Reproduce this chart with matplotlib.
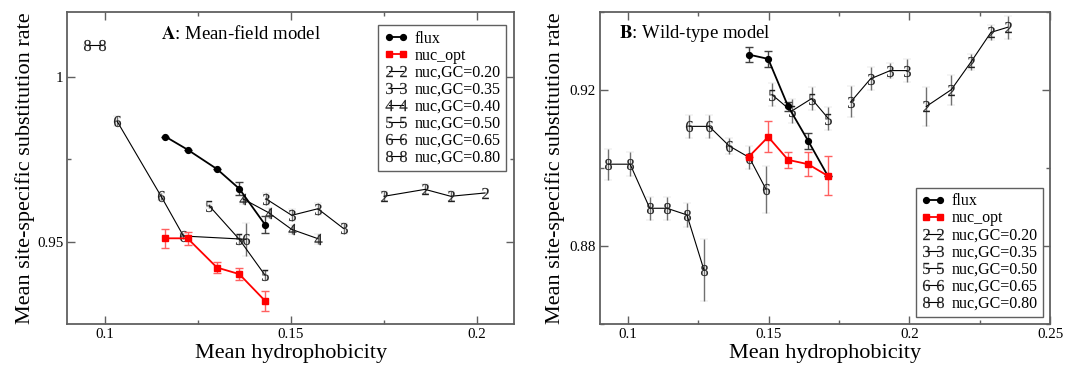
import matplotlib
matplotlib.use("Agg")
import matplotlib.pyplot as plt
from matplotlib.ticker import FixedLocator, FuncFormatter
from matplotlib.container import ErrorbarContainer
from matplotlib.textpath import TextPath
from matplotlib.font_manager import FontProperties
from matplotlib.path import Path

plt.rcParams['font.family'] = ['Liberation Serif', 'DejaVu Serif']
plt.rcParams['mathtext.fontset'] = 'stix'

# ---------------- Panel A: Mean-field model ----------------
fluxA_x = [0.1163, 0.1223, 0.1302, 0.1362, 0.1431]
fluxA_y = [0.982, 0.978, 0.9721, 0.9661, 0.9552]
fluxA_e = [0.0, 0.0, 0.0, 0.002, 0.0027]
nucA_x = [0.1163, 0.1223, 0.1302, 0.1362, 0.1431]
nucA_y = [0.951, 0.951, 0.9421, 0.9401, 0.932]
nucA_e = [0.0029, 0.002, 0.0018, 0.0018, 0.003]

A2_x = [0.1751, 0.1861, 0.1930, 0.2022]
A2_y = [0.9638, 0.9659, 0.9638, 0.9648]
A2_e = [0.0015, 0.0015, 0.0015, 0.0]
A3_x = [0.1434, 0.1503, 0.1573, 0.1642]
A3_y = [0.963, 0.958, 0.960, 0.954]
A3_e = [0.0018, 0.0018, 0.0018, 0.0018]
A4_x = [0.1372, 0.1441, 0.1503, 0.1573]
A4_y = [0.963, 0.9588, 0.9537, 0.9509]
A4_e = [0.0015, 0.0015, 0.0015, 0.0015]
A5_x = [0.1282, 0.1362, 0.1431]
A5_y = [0.9608, 0.9507, 0.9398]
A5_e = [0.0005, 0.0015, 0.0015]
A6_x = [0.1034, 0.1152, 0.1212, 0.1380]
A6_y = [0.9866, 0.9638, 0.9517, 0.9507]
A6_e = [0.0015, 0.001, 0.001, 0.005]
A8_x = [0.0954, 0.0994]
A8_y = [1.010, 1.010]
A8_e = [0.0, 0.0]

# ---------------- Panel B: Wild-type model ----------------
fluxB_x = [0.1429, 0.1498, 0.1569, 0.1640, 0.1710]
fluxB_y = [0.9290, 0.9279, 0.9157, 0.9069, 0.8979]
fluxB_e = [0.0019, 0.002, 0.0012, 0.002, 0.0]
nucB_x = [0.1429, 0.1498, 0.1569, 0.1640, 0.1710]
nucB_y = [0.9028, 0.9079, 0.9020, 0.9009, 0.8979]
nucB_e = [0.0, 0.004, 0.002, 0.003, 0.005]

B2_x = [0.2060, 0.2149, 0.2219, 0.2290, 0.2349]
B2_y = [0.9157, 0.9200, 0.9271, 0.9347, 0.9360]
B2_e = [0.005, 0.0038, 0.002, 0.002, 0.003]
B3_x = [0.1792, 0.1862, 0.1932, 0.1991]
B3_y = [0.9169, 0.9228, 0.9249, 0.9249]
B3_e = [0.004, 0.003, 0.002, 0.003]
B5_x = [0.1512, 0.1581, 0.1652, 0.1712]
B5_y = [0.9187, 0.9145, 0.9177, 0.9126]
B5_e = [0.003, 0.003, 0.003, 0.003]
B6_x = [0.1217, 0.1288, 0.1359, 0.1431, 0.1490]
B6_y = [0.9106, 0.9106, 0.9056, 0.9026, 0.8945]
B6_e = [0.003, 0.003, 0.002, 0.003, 0.006]
B8_x = [0.0930, 0.1007, 0.1077, 0.1138, 0.1209, 0.1270]
B8_y = [0.9009, 0.9009, 0.8896, 0.8896, 0.8879, 0.8737]
B8_e = [0.004, 0.003, 0.003, 0.003, 0.003, 0.008]

labelsA = ['flux', 'nuc_opt', 'nuc,GC=0.20', 'nuc,GC=0.35', 'nuc,GC=0.40',
           'nuc,GC=0.50', 'nuc,GC=0.65', 'nuc,GC=0.80']
labelsB = ['flux', 'nuc_opt', 'nuc,GC=0.20', 'nuc,GC=0.35',
           'nuc,GC=0.50', 'nuc,GC=0.65', 'nuc,GC=0.80']

fig = plt.figure(figsize=(10.74, 3.66), dpi=100)
axA = fig.add_axes([67.3/1074, 42.3/366, 446.7/1074, 312/366])
axB = fig.add_axes([600/1074, 42.3/366, 450/1074, 312/366])

SPINE = '#606060'
ECOL = '#707070'
DIGIT_FONT = FontProperties(family='Liberation Serif')


def digit_marker(d):
    tp = TextPath((0, 0), d, size=10, prop=DIGIT_FONT)
    ext = tp.get_extents()
    cx = (ext.x0 + ext.x1) / 2
    cy = (ext.y0 + ext.y1) / 2
    verts = tp.vertices.copy()
    verts[:, 0] -= cx
    verts[:, 1] -= cy
    return Path(verts, tp.codes)


def draw_flux(ax, x, y, e, label):
    ax.errorbar(x, y, yerr=e, color='black', lw=1.3, marker='o', ms=4.2,
                ecolor='#404040', elinewidth=1.0, capsize=3.2, capthick=1.0,
                label=label, zorder=4)


def draw_nuc(ax, x, y, e, label):
    ax.errorbar(x, y, yerr=e, color='#ff0000', lw=1.3, marker='s', ms=4.0,
                ecolor='#ff6060', elinewidth=1.0, capsize=3.2, capthick=1.0,
                label=label, zorder=4)


def draw_gc(ax, x, y, e, digit, label):
    ax.errorbar(x, y, yerr=e, color='black', lw=0.8,
                marker=digit_marker(digit),
                ms=8, mfc='#202020', mec='#202020', mew=0.1,
                ecolor=ECOL, elinewidth=1.0, capsize=3.2, capthick=1.0,
                label=label, zorder=3)


fmt = FuncFormatter(lambda v, p: ('%g' % round(v, 4)))


def style(ax, xmaj, xmin, ymaj, ymin, xlim, ylim):
    ax.set_xlim(*xlim)
    ax.set_ylim(*ylim)
    ax.xaxis.set_major_locator(FixedLocator(xmaj))
    ax.xaxis.set_minor_locator(FixedLocator(xmin))
    ax.yaxis.set_major_locator(FixedLocator(ymaj))
    ax.yaxis.set_minor_locator(FixedLocator(ymin))
    ax.xaxis.set_major_formatter(fmt)
    ax.yaxis.set_major_formatter(fmt)
    ax.tick_params(which='both', direction='in', top=True, right=True,
                   color=SPINE, width=1.0)
    ax.tick_params(which='major', length=6, labelsize=10.8, pad=3)
    ax.tick_params(which='minor', length=3.2)
    for s in ax.spines.values():
        s.set_color(SPINE)
        s.set_linewidth(1.3)
    ax.set_xlabel('Mean hydrophobicity', fontsize=16)
    ax.set_ylabel('Mean site-specific substitution rate', fontsize=16)
    ax.xaxis.label.set_va('baseline')
    ax.xaxis.set_label_coords(0.5, -0.11)
    ax.yaxis.label.set(va='center', ha='center', rotation_mode='default')


# Panel A
draw_flux(axA, fluxA_x, fluxA_y, fluxA_e, labelsA[0])
draw_nuc(axA, nucA_x, nucA_y, nucA_e, labelsA[1])
draw_gc(axA, A2_x, A2_y, A2_e, '2', labelsA[2])
draw_gc(axA, A3_x, A3_y, A3_e, '3', labelsA[3])
draw_gc(axA, A4_x, A4_y, A4_e, '4', labelsA[4])
draw_gc(axA, A5_x, A5_y, A5_e, '5', labelsA[5])
draw_gc(axA, A6_x, A6_y, A6_e, '6', labelsA[6])
draw_gc(axA, A8_x, A8_y, A8_e, '8', labelsA[7])
style(axA, [0.1, 0.15, 0.2], [0.125, 0.175], [0.95, 1.0], [0.975],
      (0.09, 0.21), (0.925, 1.02))
axA.yaxis.set_label_coords(-0.095, 0.5)
axA.text(0.21, 0.93, r'$\mathbf{A}$: Mean-field model', transform=axA.transAxes,
         fontsize=13.5, va='center', ha='left')

# Panel B
draw_flux(axB, fluxB_x, fluxB_y, fluxB_e, labelsB[0])
draw_nuc(axB, nucB_x, nucB_y, nucB_e, labelsB[1])
draw_gc(axB, B2_x, B2_y, B2_e, '2', labelsB[2])
draw_gc(axB, B3_x, B3_y, B3_e, '3', labelsB[3])
draw_gc(axB, B5_x, B5_y, B5_e, '5', labelsB[4])
draw_gc(axB, B6_x, B6_y, B6_e, '6', labelsB[5])
draw_gc(axB, B8_x, B8_y, B8_e, '8', labelsB[6])
style(axB, [0.1, 0.15, 0.2, 0.25], [0.125, 0.175, 0.225], [0.88, 0.92],
      [0.86, 0.90, 0.94], (0.09, 0.25), (0.86, 0.94))
axB.yaxis.set_label_coords(-0.100, 0.5)
axB.text(0.042, 0.93, r'$\mathbf{B}$: Wild-type model', transform=axB.transAxes,
         fontsize=13.5, va='center', ha='left')


def make_legend(ax, loc, anchor):
    h, l = ax.get_legend_handles_labels()
    hh = [x[0] if isinstance(x, ErrorbarContainer) else x for x in h]
    leg = ax.legend(hh, l, loc=loc, bbox_to_anchor=anchor, borderaxespad=0,
                    fontsize=11.5, numpoints=2, handlelength=1.5,
                    handletextpad=0.4, labelspacing=0.06, borderpad=0.35,
                    fancybox=False, framealpha=1, edgecolor=SPINE)
    leg.get_frame().set_linewidth(1.0)


make_legend(axA, 'upper right', (0.982, 0.957))
make_legend(axB, 'lower right', (0.985, 0.022))

fig.savefig('out.png', dpi=100)
